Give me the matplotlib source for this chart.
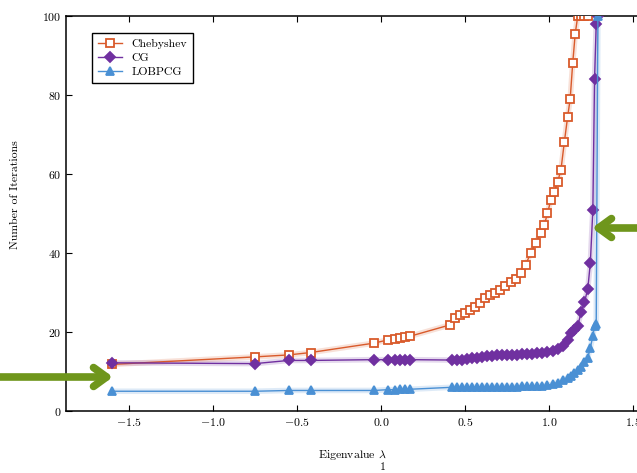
import numpy as np
import matplotlib
matplotlib.use("Agg")
import matplotlib.pyplot as plt

plt.rcParams.update({
    "font.family": "serif", "font.serif": ["cmr10", "DejaVu Serif"],
    "mathtext.fontset": "cm", "axes.formatter.use_mathtext": True,
    "font.size": 8.5, "axes.unicode_minus": True,
})

C_CHEB = "#d95a2b"; C_CG = "#7030a0"; C_LOB = "#4a90d4"; C_ARROW = "#6f961c"

# Chebyshev
lam_cheb = [-1.60, -0.75, -0.55, -0.42, -0.04, 0.04, 0.08, 0.11, 0.14, 0.17,
            0.41, 0.44, 0.47, 0.50, 0.53, 0.56, 0.59, 0.62, 0.65, 0.68,
            0.71, 0.74, 0.77, 0.80, 0.83, 0.86, 0.89, 0.92, 0.95, 0.97,
            0.99, 1.01, 1.03, 1.05, 1.07, 1.09, 1.11, 1.125, 1.14, 1.155,
            1.17, 1.19, 1.21, 1.23]
it_cheb = [11.8, 13.7, 14.2, 14.8, 17.2, 18.0, 18.3, 18.5, 18.7, 18.9,
           21.8, 23.5, 24.2, 24.9, 25.5, 26.3, 27.3, 28.5, 29.3, 30.0,
           30.6, 31.6, 32.6, 33.5, 35.0, 37.0, 40.0, 42.5, 45.0, 47.0,
           50.0, 53.5, 55.5, 58.0, 61.0, 68.0, 74.5, 79.0, 88.0, 95.5,
           100, 100, 100, 100]

# CG and LOBPCG share the eigenvalues
lam = [-1.60, -0.75, -0.55, -0.42, -0.04, 0.04, 0.08, 0.11, 0.14, 0.17,
       0.42, 0.45, 0.48, 0.51, 0.54, 0.57, 0.60, 0.63, 0.66, 0.69,
       0.72, 0.75, 0.78, 0.81, 0.84, 0.87, 0.90, 0.93, 0.96, 0.99,
       1.02, 1.05, 1.08, 1.11, 1.13, 1.15, 1.17, 1.19, 1.21, 1.23,
       1.245, 1.26, 1.27, 1.28, 1.29]
it_cg = [12.2, 12.0, 12.8, 12.8, 13.0, 13.0, 13.0, 13.0, 13.0, 13.0,
         12.9, 12.9, 13.0, 13.2, 13.4, 13.5, 13.6, 13.8, 14.0, 14.1,
         14.2, 14.2, 14.3, 14.3, 14.4, 14.4, 14.5, 14.6, 14.8, 15.0,
         15.2, 15.8, 16.5, 18.0, 19.7, 20.5, 21.5, 25.0, 27.5, 31.0,
         37.5, 51.0, 84.0, 98.0, 100]
it_lob = [5.0, 5.0, 5.2, 5.2, 5.2, 5.4, 5.4, 5.5, 5.5, 5.5,
          6.0, 6.0, 6.0, 6.1, 6.1, 6.1, 6.2, 6.2, 6.2, 6.2,
          6.2, 6.2, 6.2, 6.2, 6.3, 6.3, 6.3, 6.3, 6.4, 6.5,
          6.8, 7.2, 7.8, 8.4, 8.8, 9.5, 10.4, 11.2, 12.5, 13.5,
          16.0, 19.0, 21.5, 22.0, 100]

fig = plt.figure(figsize=(6.37, 4.73), dpi=100)
ax = fig.add_axes([66 / 637, 62 / 473, 584 / 637, 395 / 473])

series = [(lam_cheb, it_cheb, C_CHEB, "s", 6.0, "Chebyshev", "white"),
          (lam, it_cg, C_CG, "D", 5.0, "CG", C_CG),
          (lam, it_lob, C_LOB, "^", 6.0, "LOBPCG", C_LOB)]
for x, y, c, m, ms, lab, fc in series:
    ax.plot(x, y, color=c, lw=4, alpha=0.18, solid_capstyle="round", zorder=2)
    ax.plot(x, y, color=c, lw=1.0, marker=m, ms=ms,
            mfc=fc, mec=c, mew=1.3, label=lab, zorder=3)

ax.set_xlim(-1.875, 1.6)
ax.set_ylim(0, 100)
ax.set_xticks([-1.5, -1, -0.5, 0, 0.5, 1, 1.5])
ax.set_yticks([0, 20, 40, 60, 80, 100])
ax.tick_params(direction="in", top=True, right=True, length=4, width=0.8, labelsize=8.5)
for s in ax.spines.values():
    s.set_linewidth(1.1)
ax.set_ylabel("Number of Iterations", fontsize=8.5)
ax.yaxis.set_label_coords(-0.079, 0.547)
ax.set_xlabel(r"Eigenvalue $\lambda$", fontsize=8.5)
ax.xaxis.set_label_coords(0.491, -0.094)
fig.text(383 / 637, 1 - 467 / 473, "1", ha="center", va="center", fontsize=8.5)

leg = ax.legend(loc="upper left", bbox_to_anchor=(0.045, 0.957), borderaxespad=0,
                fancybox=False, edgecolor="black", framealpha=1, fontsize=8.5,
                handlelength=2.0, labelspacing=0.3, borderpad=0.5)
leg.get_frame().set_linewidth(1.0)

# green arrows
for tip, tail, yy in [(113, -6, 377), (592, 643, 228)]:
    ax.annotate("", xy=(tip / 637, 1 - yy / 473), xytext=(tail / 637, 1 - yy / 473),
                xycoords="figure fraction", textcoords="figure fraction",
                arrowprops=dict(arrowstyle="->,head_length=1.1,head_width=0.8",
                                color=C_ARROW, lw=5.5, shrinkA=0, shrinkB=0),
                annotation_clip=False, zorder=10)

fig.savefig("out.png", dpi=100)
